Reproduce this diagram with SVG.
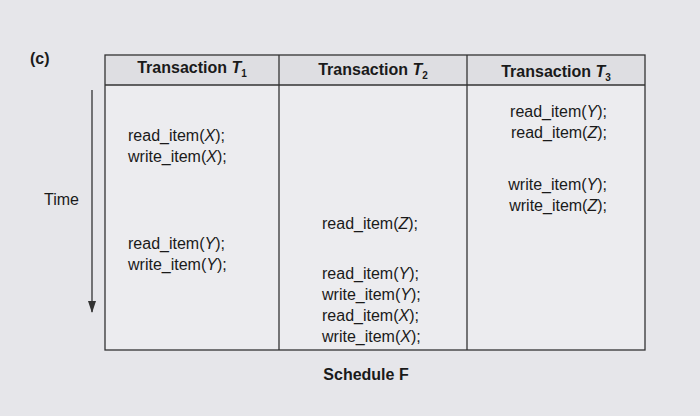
<svg xmlns="http://www.w3.org/2000/svg" width="700" height="416" viewBox="0 0 700 416">
<defs>
<style>
text{font-family:"Liberation Sans",Arial,sans-serif;font-size:16px;fill:#1a1a1a}
.b{font-weight:bold}
.h{font-weight:bold;text-anchor:middle}
.r{text-anchor:end}
tspan.i{font-style:italic}
.line{stroke:#333;stroke-width:1.3;fill:none}
</style>
<marker id="ah" markerWidth="12" markerHeight="8" refX="11" refY="4" orient="auto" markerUnits="userSpaceOnUse"><path d="M0,0 L12,4 L0,8 Z" fill="#333"/></marker>
</defs>
<rect width="700" height="416" fill="#e6e6ea"/>
<g id="table">
<rect x="105" y="55" width="540" height="30" fill="#dedee2"/>
<rect x="105" y="85" width="540" height="265" fill="#ececef"/>
<rect x="105" y="55" width="540" height="295" class="line"/>
<line x1="105" y1="85" x2="645" y2="85" class="line"/>
<line x1="279" y1="55" x2="279" y2="350" class="line"/>
<line x1="467" y1="55" x2="467" y2="350" class="line"/>
</g>
<text x="30" y="64" class="b">(c)</text>
<g id="headers">
<text x="192" y="73" class="h">Transaction <tspan class="i">T</tspan><tspan font-size="10" dy="4">1</tspan></text>
<text x="373" y="75" class="h">Transaction <tspan class="i">T</tspan><tspan font-size="10" dy="4">2</tspan></text>
<text x="556" y="77" class="h">Transaction <tspan class="i">T</tspan><tspan font-size="10" dy="4">3</tspan></text>
</g>
<g id="t1">
<text x="128" y="141">read_item(<tspan class="i">X</tspan>);</text>
<text x="128" y="162">write_item(<tspan class="i">X</tspan>);</text>
<text x="128" y="249">read_item(<tspan class="i">Y</tspan>);</text>
<text x="128" y="270">write_item(<tspan class="i">Y</tspan>);</text>
</g>
<g id="t2">
<text x="322" y="229">read_item(<tspan class="i">Z</tspan>);</text>
<text x="322" y="279">read_item(<tspan class="i">Y</tspan>);</text>
<text x="322" y="300">write_item(<tspan class="i">Y</tspan>);</text>
<text x="322" y="321">read_item(<tspan class="i">X</tspan>);</text>
<text x="322" y="342">write_item(<tspan class="i">X</tspan>);</text>
</g>
<g id="t3">
<text x="607" y="117" class="r">read_item(<tspan class="i">Y</tspan>);</text>
<text x="607" y="138" class="r">read_item(<tspan class="i">Z</tspan>);</text>
<text x="607" y="190" class="r">write_item(<tspan class="i">Y</tspan>);</text>
<text x="607" y="211" class="r">write_item(<tspan class="i">Z</tspan>);</text>
</g>
<g id="connectors">
<line x1="92" y1="90" x2="92" y2="312" class="line" marker-end="url(#ah)"/>
</g>
<text x="44" y="205">Time</text>
<text x="366" y="380" class="h">Schedule F</text>
</svg>
